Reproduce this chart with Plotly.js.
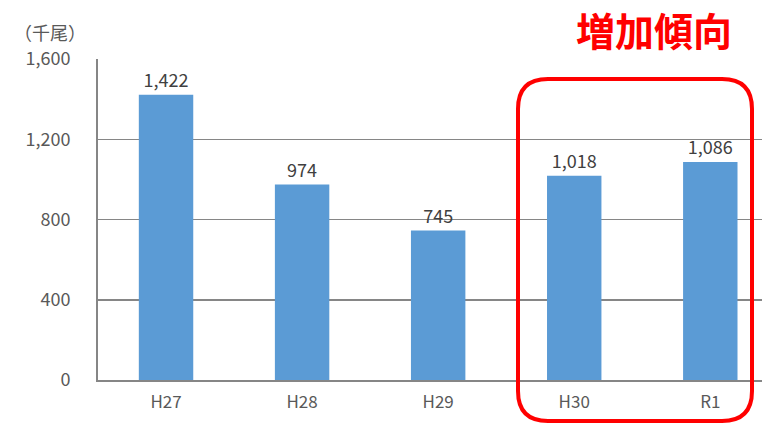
<!DOCTYPE html>
<html><head><meta charset="utf-8">
<script src="https://cdn.plot.ly/plotly-3.0.1.min.js"></script>
<style>html,body{margin:0;padding:0;background:#fff;}#c{width:762px;height:425px;}</style>
</head><body><div id="c"></div>
<script>
const categories = ["H27","H28","H29","H30","R1"];
const values = [1422, 974, 745, 1018, 1086];
const valueLabels = ["1,422","974","745","1,018","1,086"];
const yTickVals = [0, 400, 800, 1200, 1600];
const yTickText = ["0","400","800","1,200","1,600"];
const unitLabel = "（千尾）";
const headline = "増加傾向";

const W = 762, H = 425, L = 98, R = 0, T = 59, B = 45;
const pw = W - L - R, ph = H - T - B;
const px = x => (x - L) / pw;
const py = y => (H - B - y) / ph;
function roundRect(x0, y0, x1, y1, r) {
  const p = (x, y) => px(x) + "," + py(y);
  return "M" + p(x0 + r, y0) + " L" + p(x1 - r, y0) + " Q" + p(x1, y0) + " " + p(x1, y0 + r) +
    " L" + p(x1, y1 - r) + " Q" + p(x1, y1) + " " + p(x1 - r, y1) +
    " L" + p(x0 + r, y1) + " Q" + p(x0, y1) + " " + p(x0, y1 - r) +
    " L" + p(x0, y0 + r) + " Q" + p(x0, y0) + " " + p(x0 + r, y0) + " Z";
}
const font = '"Noto Sans CJK JP", "Noto Sans", sans-serif';
const trace = {
  type: "bar", x: categories, y: values, text: valueLabels,
  textposition: "outside", cliponaxis: false,
  textfont: {family: font, size: 18, color: "#404040"},
  marker: {color: "#5B9BD5"}, width: 0.4, hoverinfo: "none"
};
const layout = {
  width: W, height: H, margin: {l: L, r: R, t: T, b: B},
  paper_bgcolor: "#fff", plot_bgcolor: "#fff", showlegend: false,
  font: {family: font, color: "#595959", size: 17},
  xaxis: {type: "category", range: [-0.5, 4.38], showline: true, linecolor: "#868686", linewidth: 2,
    ticks: "", ticklabelstandoff: 6, tickfont: {size: 17, color: "#595959"}, showgrid: false, zeroline: false, fixedrange: true},
  yaxis: {range: [0, 1600], tickvals: yTickVals, ticktext: yTickText, showline: true, linecolor: "#868686",
    linewidth: 2, gridcolor: "#868686", gridwidth: 1.5, ticks: "", ticklabelstandoff: 22,
    tickfont: {size: 18, color: "#595959"}, zeroline: false, fixedrange: true},
  annotations: [
    {text: unitLabel, xref: "paper", yref: "paper", x: px(12), y: py(32), xanchor: "left", yanchor: "middle",
      showarrow: false, font: {size: 18, color: "#595959"}},
    {text: "<b>" + headline + "</b>", xref: "paper", yref: "paper", x: px(654), y: py(29), xanchor: "center",
      yanchor: "middle", showarrow: false, font: {size: 39, color: "#FF0000"}}
  ],
  shapes: [
    {type: "path", xref: "paper", yref: "paper", path: roundRect(518, 79, 752, 421, 30),
      line: {color: "#FF0000", width: 4}, fillcolor: "rgba(0,0,0,0)"}
  ]
};
Plotly.newPlot("c", [trace], layout, {displayModeBar: false, staticPlot: true});
</script></body></html>
